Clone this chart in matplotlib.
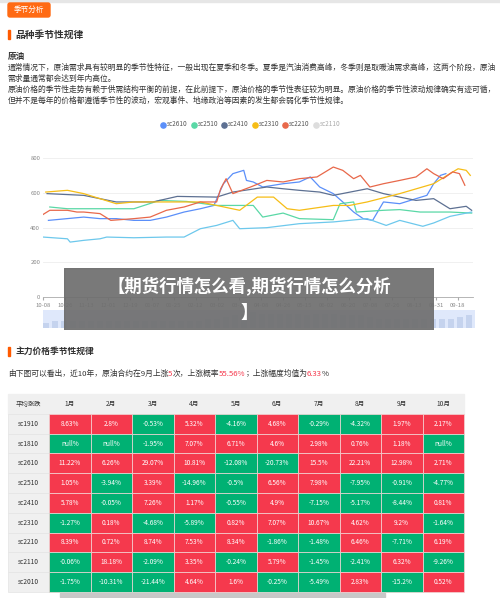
import matplotlib
matplotlib.use("Agg")
import matplotlib.pyplot as plt
from matplotlib.patches import Rectangle, FancyBboxPatch
from matplotlib.textpath import TextPath
from matplotlib.font_manager import FontProperties

plt.rcParams['font.family'] = ['Noto Sans CJK SC', 'DejaVu Sans']

# ---------- data ----------
tick_labels = ["10-08", "10-26", "11-13", "12-01", "12-19", "01-07", "01-25", "02-12", "03-02",
               "03-20", "04-08", "04-26", "05-15", "06-02", "06-20", "07-08", "07-26", "08-13", "08-31", "09-18"]

sc2110_x = [0, 18, 20, 30, 42, 47, 67, 91, 104, 116, 128, 140, 145, 165, 189, 214, 239, 253, 263, 280, 288, 300, 316]
sc2110_y = [345, 335, 316, 326, 335, 345, 341, 345, 345, 393, 412, 441, 393, 399, 422, 432, 451, 412, 441, 407, 426, 464, 489]

sc2510_x = [5, 18, 42, 67, 86, 106, 128, 155, 162, 177, 189, 214, 219, 229, 231, 251, 263, 278, 300, 316]
sc2510_y = [518, 508, 508, 508, 556, 550, 527, 527, 460, 483, 451, 445, 537, 547, 489, 499, 503, 489, 489, 483]

sc2410_x = [3, 30, 54, 81, 99, 128, 140, 165, 177, 189, 204, 214, 239, 251, 263, 275, 288, 300, 312, 316]
sc2410_y = [595, 585, 547, 547, 579, 575, 604, 633, 623, 614, 604, 585, 623, 595, 575, 556, 566, 508, 522, 499]

sc2310_x = [2, 18, 30, 42, 54, 67, 91, 116, 128, 145, 158, 170, 180, 189, 214, 226, 239, 263, 288, 300, 306, 312, 315]
sc2310_y = [604, 614, 595, 566, 537, 547, 547, 547, 527, 499, 575, 575, 508, 499, 527, 527, 547, 595, 652, 710, 738, 729, 700]

sc2210_x = [-1, 5, 18, 25, 30, 42, 50, 67, 79, 91, 104, 116, 128, 131, 135, 140, 153, 165, 177, 189, 202,
            214, 221, 229, 234, 241, 251, 263, 275, 283, 288, 295, 302, 307, 311]
sc2210_y = [470, 499, 499, 489, 489, 480, 441, 451, 460, 499, 518, 547, 547, 623, 681, 595, 633, 671, 662,
            681, 691, 748, 729, 681, 700, 633, 652, 671, 691, 738, 710, 681, 720, 710, 643]

sc2610_x = [4, 30, 42, 54, 67, 79, 91, 104, 116, 126, 133, 140, 148, 150, 155, 162, 177, 189, 197, 204,
            214, 221, 229, 236, 243, 251, 263, 275, 283, 288, 293, 297]
sc2610_y = [441, 460, 451, 451, 441, 441, 460, 489, 508, 527, 652, 710, 729, 671, 662, 633, 652, 662, 691, 633,
            595, 547, 489, 451, 441, 547, 537, 566, 585, 652, 700, 710]

series = [("sc2610", sc2610_x, sc2610_y, "#5b8ff9"),
          ("sc2510", sc2510_x, sc2510_y, "#5ad8a6"),
          ("sc2410", sc2410_x, sc2410_y, "#5d7092"),
          ("sc2310", sc2310_x, sc2310_y, "#f6bd16"),
          ("sc2210", sc2210_x, sc2210_y, "#e8684a"),
          ("sc2110", sc2110_x, sc2110_y, "#6dc8ec")]

months = ["1月", "2月", "3月", "4月", "5月", "6月", "7月", "8月", "9月", "10月"]
contracts = ["sc1910", "sc1810", "sc2610", "sc2510", "sc2410", "sc2310", "sc2210", "sc2110", "sc2010"]
table_vals = [
    ["8.63%", "2.8%", "-0.53%", "5.32%", "-4.16%", "4.68%", "-0.29%", "-4.32%", "1.97%", "2.17%"],
    ["null%", "null%", "-1.95%", "7.07%", "6.71%", "4.6%", "2.98%", "0.76%", "1.18%", "null%"],
    ["11.22%", "6.26%", "29.07%", "10.81%", "-12.08%", "-20.73%", "15.5%", "22.21%", "12.98%", "2.71%"],
    ["1.05%", "-3.94%", "3.39%", "-14.96%", "-0.5%", "6.56%", "7.98%", "-7.95%", "-0.91%", "-4.77%"],
    ["5.78%", "-0.05%", "7.26%", "1.17%", "-0.55%", "4.9%", "-7.15%", "-5.17%", "-8.44%", "0.81%"],
    ["-1.27%", "0.18%", "-4.68%", "-5.89%", "0.82%", "7.07%", "10.67%", "4.62%", "9.2%", "-1.64%"],
    ["8.39%", "0.72%", "8.74%", "7.53%", "8.34%", "-1.86%", "-1.48%", "6.46%", "-7.71%", "6.19%"],
    ["-0.06%", "18.18%", "-2.09%", "3.35%", "-0.24%", "5.79%", "-1.45%", "-2.41%", "6.32%", "-9.26%"],
    ["-1.75%", "-10.31%", "-21.44%", "4.64%", "1.6%", "-0.25%", "-5.49%", "2.83%", "-15.2%", "0.52%"],
]
volume_bars = [3, 4, 4, 4, 4, 4, 4, 4, 4, 4, 4, 4, 4, 4, 4, 4, 4, 4, 5, 5, 6, 7, 8, 9, 8, 8, 8, 8, 8, 7,
               8, 8, 8, 7, 7, 7, 6, 5, 5, 5, 5, 5, 5, 5, 5, 5, 6, 7]

W, H = 500, 598
fig = plt.figure(figsize=(W / 100, H / 100), dpi=100)
fig.patch.set_facecolor("white")

bg = fig.add_axes([0, 0, 1, 1])
bg.set_xlim(0, W); bg.set_ylim(H, 0); bg.axis("off")

def px_axes(x0, y0, x1, y1, z=1):
    return fig.add_axes([x0 / W, 1 - y1 / H, (x1 - x0) / W, (y1 - y0) / H], zorder=z)

RED, GREEN = "#f5394d", "#00b173"
TXT = "#333333"

bg.add_patch(Rectangle((0, 0), W, 1.5, color="#e6e6e6"))
bg.add_patch(FancyBboxPatch((8, 3), 42, 14, boxstyle="round,pad=0,rounding_size=2", color="#ff6a13"))
bg.text(29, 10, "季节分析", color="white", fontsize=5.5, ha="center", va="center")
bg.add_patch(Rectangle((8, 30), 2, 9, color="#ff5a00"))
bg.text(15, 34.5, "品种季节性规律", fontsize=7, weight="bold", color=TXT, va="center")
bg.text(8, 57, "原油", fontsize=6.2, weight="bold", color=TXT, va="center")
para = ["通常情况下，原油需求具有较明显的季节性特征，一般出现在夏季和冬季。夏季是汽油消费高峰，冬季则是取暖油需求高峰，这两个阶段，原油",
        "需求量通常都会达到年内高位。",
        "原油价格的季节性走势有赖于供需结构平衡的前提，在此前提下，原油价格的季节性表征较为明显。原油价格的季节性波动规律确实有迹可循，",
        "但并不是每年的价格都遵循季节性的波动，宏观事件、地缘政治等因素的发生都会弱化季节性规律。"]
for i, line in enumerate(para):
    bg.text(8, 68 + i * 11, line, fontsize=5.6, color=TXT, va="center")

# legend
lx = 163
for name, _, _, c in series:
    cc = "#dddddd" if name == "sc2110" else c
    bg.scatter([lx], [124.5], s=14, color=cc, zorder=3)
    bg.text(lx + 4, 124.5, name, fontsize=4.6, color="#aaaaaa" if name == "sc2110" else "#555555", va="center")
    lx += 30.5

# line chart
ax = px_axes(43, 158, 473, 297)
for name, xs, ys, c in series:
    ax.plot(xs, ys, color=c, lw=0.9, zorder=2)
ax.set_xlim(0, 317); ax.set_ylim(0, 800)
ax.set_yticks([0, 200, 400, 600, 800])
step = 317 / ((1420 - 128) / 65.6)
ax.set_xticks([i * step for i in range(len(tick_labels))])
ax.set_xticklabels(tick_labels)
ax.tick_params(labelsize=4.3, colors="#888888", length=0, pad=2)
ax.tick_params(axis="x", length=2, color="#aaaaaa")
ax.grid(axis="y", color="#eeeeee", lw=0.6)
for s in ["top", "right", "left"]:
    ax.spines[s].set_visible(False)
ax.spines["bottom"].set_color("#aaaaaa"); ax.spines["bottom"].set_linewidth(0.6)
ax.set_axisbelow(True)

# data zoom slider
sl = px_axes(43, 310, 475, 328)
sl.set_xlim(0, len(volume_bars)); sl.set_ylim(0, 10)
sl.add_patch(Rectangle((0, 0), len(volume_bars), 10, color="#dfe8fb"))
sl.bar(range(len(volume_bars)), volume_bars, width=0.7, align="edge", color="#c5d3ee")
sl.axis("off")

# overlay banner
ov = px_axes(64, 268, 434, 330, z=5)
ov.set_xlim(0, 1); ov.set_ylim(1, 0); ov.axis("off")
ov.add_patch(Rectangle((0, 0), 1, 1, color="#6e6e6e", alpha=0.92))
ov.text(0.5, 0.28, "【期货行情怎么看,期货行情怎么分析", color="white", fontsize=12.5, weight="bold", ha="center", va="center")
ov.text(0.5, 0.73, "】", color="white", fontsize=12.5, weight="bold", ha="center", va="center")

# section 2
bg.add_patch(Rectangle((8, 347), 2, 9, color="#ff5a00"))
bg.text(15, 351.5, "主力价格季节性规律", fontsize=6.3, weight="bold", color=TXT, va="center")
parts = [("由下图可以看出，近10年，原油合约在9月上涨", TXT), ("5", RED), ("次，上涨概率", TXT),
         ("55.56%", RED), ("；上涨幅度均值为", TXT), ("6.33", RED), ("%", TXT)]
tx = 8
fp = FontProperties(family="Noto Sans CJK SC", size=5.6)
for s, c in parts:
    bg.text(tx, 373.5, s, fontsize=5.6, color=c, va="center")
    w = TextPath((0, 0), s, prop=fp).get_extents().width
    tx += w * 100 / 72 + 0.6

# table
x0, cw0, cw, y0, rh = 8, 41, 41.5, 394, 19.8
bg.add_patch(Rectangle((x0, y0), cw0 + cw * 10, rh, color="#f0f0f0"))
bg.text(x0 + cw0 / 2, y0 + rh / 2, "平均涨跌", fontsize=4.6, color=TXT, ha="center", va="center")
for j, m in enumerate(months):
    bg.text(x0 + cw0 + cw * j + cw / 2, y0 + rh / 2, m, fontsize=4.8, color=TXT, ha="center", va="center")
for i, (cname, row) in enumerate(zip(contracts, table_vals)):
    yy = y0 + rh * (i + 1)
    bg.add_patch(Rectangle((x0, yy), cw0, rh, color="#f0f0f0", ec="#e4e4e4", lw=0.5))
    bg.text(x0 + cw0 / 2, yy + rh / 2, cname, fontsize=4.8, color=TXT, ha="center", va="center")
    for j, v in enumerate(row):
        col = RED if (not v.startswith("-") and not v.startswith("null")) else GREEN
        bg.add_patch(Rectangle((x0 + cw0 + cw * j, yy), cw, rh, fc=col, ec="#f3d6d6", lw=0.5))
        bg.text(x0 + cw0 + cw * j + cw / 2, yy + rh / 2, v, fontsize=4.7, color="white", ha="center", va="center")
bg.add_patch(Rectangle((60, 593), 325, 4, color="#c8c8c8"))

fig.savefig("out.png", dpi=100)
